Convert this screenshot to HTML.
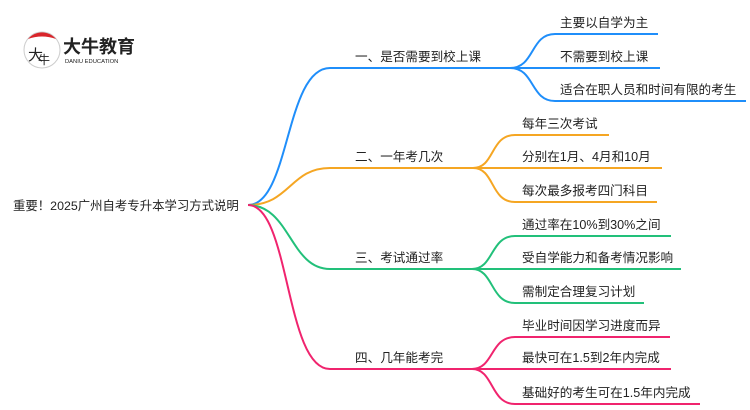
<!DOCTYPE html>
<html><head><meta charset="utf-8"><style>
html,body{margin:0;padding:0;background:#fff;}
svg{display:block}
text{font-family:"Liberation Sans","Noto Sans CJK SC",sans-serif;fill:#222;}
</style></head><body>
<svg width="750" height="410" viewBox="0 0 750 410" xmlns="http://www.w3.org/2000/svg">
<!-- logo -->
<circle cx="42" cy="50" r="18" fill="#fff" stroke="#ccc" stroke-width="1"/>
<path d="M28 39 A18 18 0 0 1 56 39 Q42 34 28 39 Z" fill="#d9252b"/>
<text x="28" y="60" font-size="15" fill="#222">大</text>
<text x="38" y="64" font-size="12" fill="#222">牛</text>
<text x="63" y="53" font-size="18" font-weight="bold" fill="#333">大牛教育</text>
<text x="65" y="63" font-size="5.8" fill="#333">DANIU EDUCATION</text>
<!-- root -->
<text x="13" y="210" font-size="12.4">重要！2025广州自考专升本学习方式说明</text>
<g fill="none" stroke-width="2">
<path d="M248 205 C290 205 285 68 330 68 L510 68" stroke="#1f8efa"/>
<path d="M510 68 C535 68 530 34 555 34 L658 34 M510 68 L660 68 M510 68 C535 68 530 101 555 101 L746 101" stroke="#1f8efa"/>
<path d="M248 205 C290 205 290 168 330 168 L473 168" stroke="#f5a623"/>
<path d="M473 168 C495 168 490 135 515 135 L609 135 M473 168 L662 168 M473 168 C495 168 490 202 515 202 L657 202" stroke="#f5a623"/>
<path d="M248 205 C290 205 290 269 330 269 L472 269" stroke="#22c07a"/>
<path d="M472 269 C494 269 490 236 515 236 L671 236 M472 269 L681 269 M472 269 C494 269 490 303 515 303 L644 303" stroke="#22c07a"/>
<path d="M248 205 C290 205 285 369 330 369 L472 369" stroke="#f0246e"/>
<path d="M472 369 C494 369 490 337 515 337 L670 337 M472 369 L671 369 M472 369 C494 369 490 404 515 404 L700 404" stroke="#f0246e"/>
</g>
<g font-size="12.6">
<text x="355" y="61">一、是否需要到校上课</text>
<text x="560" y="27">主要以自学为主</text>
<text x="560" y="61">不需要到校上课</text>
<text x="560" y="94">适合在职人员和时间有限的考生</text>
<text x="355" y="161">二、一年考几次</text>
<text x="522" y="128">每年三次考试</text>
<text x="522" y="161">分别在1月、4月和10月</text>
<text x="522" y="195">每次最多报考四门科目</text>
<text x="355" y="262">三、考试通过率</text>
<text x="522" y="229">通过率在10%到30%之间</text>
<text x="522" y="262">受自学能力和备考情况影响</text>
<text x="522" y="296">需制定合理复习计划</text>
<text x="355" y="362">四、几年能考完</text>
<text x="522" y="330">毕业时间因学习进度而异</text>
<text x="522" y="362">最快可在1.5到2年内完成</text>
<text x="522" y="397">基础好的考生可在1.5年内完成</text>
</g>
</svg>
</body></html>
